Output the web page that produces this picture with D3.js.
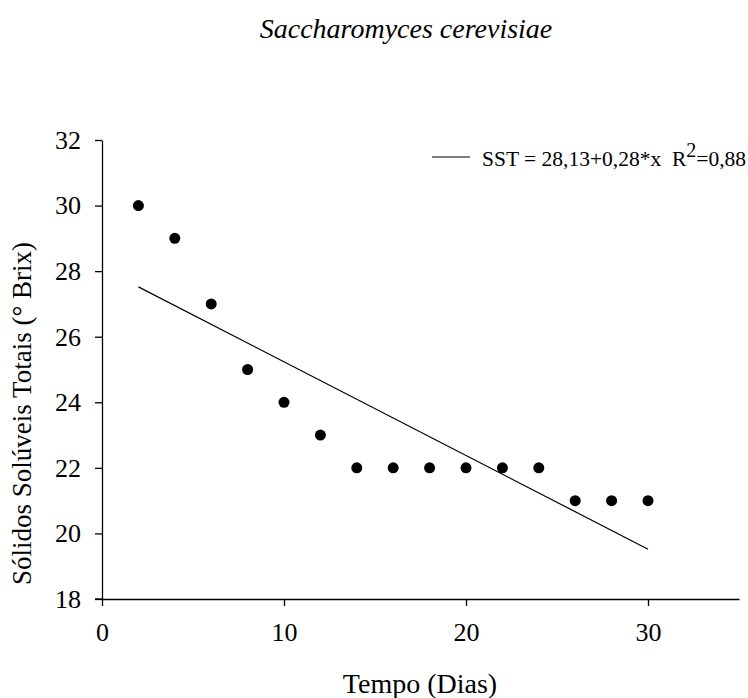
<!DOCTYPE html>
<html>
<head>
<meta charset="utf-8">
<script src="https://cdn.jsdelivr.net/npm/d3@7"></script>
<style>
  html, body { margin: 0; padding: 0; background: #fff; }
  svg { display: block; }
  text { font-family: "Liberation Serif", "Times New Roman", Times, "DejaVu Serif", serif; fill: #000; }
</style>
</head>
<body>
<svg id="chart" width="748" height="698"></svg>
<script>
// ---- data ----
const days = [2, 4, 6, 8, 10, 12, 14, 16, 18, 20, 22, 24, 26, 28, 30];
const sst = [30, 29, 27, 25, 24, 23, 22, 22, 22, 22, 22, 22, 21, 21, 21];
const fitX = [2, 30];
const fitY = [27.52, 19.52];
const xTicks = [0, 10, 20, 30];
const yTicks = [18, 20, 22, 24, 26, 28, 30, 32];
const titleText = "Saccharomyces cerevisiae";
const xLabel = "Tempo (Dias)";
const yLabel = "Sólidos Solúveis Totais (° Brix)";
const legendMain = "SST = 28,13+0,28*x \u00A0R";
const legendSup = "2";
const legendEnd = "=0,88";

// ---- layout ----
const serif = "'Liberation Serif', 'Times New Roman', Times, 'DejaVu Serif', serif";
const svg = d3.select("#chart");
const x = d3.scaleLinear().domain([0, 35]).range([102, 739]);
const y = d3.scaleLinear().domain([18, 32]).range([599, 140]);

// title
svg.append("text")
  .attr("x", 406).attr("y", 38)
  .attr("text-anchor", "middle")
  .style("font-family", serif)
  .style("font-style", "italic")
  .style("font-size", "28px")
  .text(titleText);

// axes
const xAxis = svg.append("g")
  .attr("transform", `translate(0,${y(18)})`)
  .call(d3.axisBottom(x).tickValues(xTicks).tickSize(7).tickSizeOuter(0).tickPadding(17).tickFormat(d3.format("d")));
const yAxis = svg.append("g")
  .attr("transform", `translate(${x(0)},0)`)
  .call(d3.axisLeft(y).tickValues(yTicks).tickSize(7).tickSizeOuter(0).tickPadding(14).tickFormat(d3.format("d")));

[xAxis, yAxis].forEach(g => {
  g.attr("font-family", null);
  g.select(".domain").attr("stroke", "#000").attr("stroke-width", 1.3);
  g.selectAll(".tick line").attr("stroke", "#000").attr("stroke-width", 1.3);
  g.selectAll(".tick text").style("font-size", "26px").style("font-family", serif).attr("fill", "#000");
});
// extend x axis line slightly left past y axis
xAxis.append("line").attr("x1", x(0) - 7).attr("x2", x(0)).attr("y1", 0).attr("y2", 0)
  .attr("stroke", "#000").attr("stroke-width", 1.3);

// axis labels
svg.append("text")
  .attr("x", 420).attr("y", 693)
  .attr("text-anchor", "middle")
  .style("font-family", serif)
  .style("font-size", "28px")
  .text(xLabel);
svg.append("text")
  .attr("transform", `translate(31,${(y(18) + y(32)) / 2 + 44}) rotate(-90)`)
  .attr("text-anchor", "middle")
  .style("font-family", serif)
  .style("font-size", "27px")
  .text(yLabel);

// fit line
svg.append("path")
  .datum(fitX.map((d, i) => [d, fitY[i]]))
  .attr("d", d3.line().x(d => x(d[0])).y(d => y(d[1])))
  .attr("fill", "none")
  .attr("stroke", "#000")
  .attr("stroke-width", 1.2);

// points
svg.append("g").selectAll("circle")
  .data(days.map((d, i) => [d, sst[i]]))
  .join("circle")
  .attr("cx", d => x(d[0]))
  .attr("cy", d => y(d[1]))
  .attr("r", 5.5)
  .attr("fill", "#000");

// legend
svg.append("line")
  .attr("x1", 432).attr("x2", 470).attr("y1", 157).attr("y2", 157)
  .attr("stroke", "#000").attr("stroke-width", 1.2);
const lt = svg.append("text")
  .attr("x", 482).attr("y", 166)
  .style("font-family", serif)
  .style("font-size", "21.5px");
lt.append("tspan").text(legendMain);
lt.append("tspan").attr("dy", -9).style("font-size", "20px").text(legendSup);
lt.append("tspan").attr("dy", 9).text(legendEnd);
</script>
</body>
</html>
